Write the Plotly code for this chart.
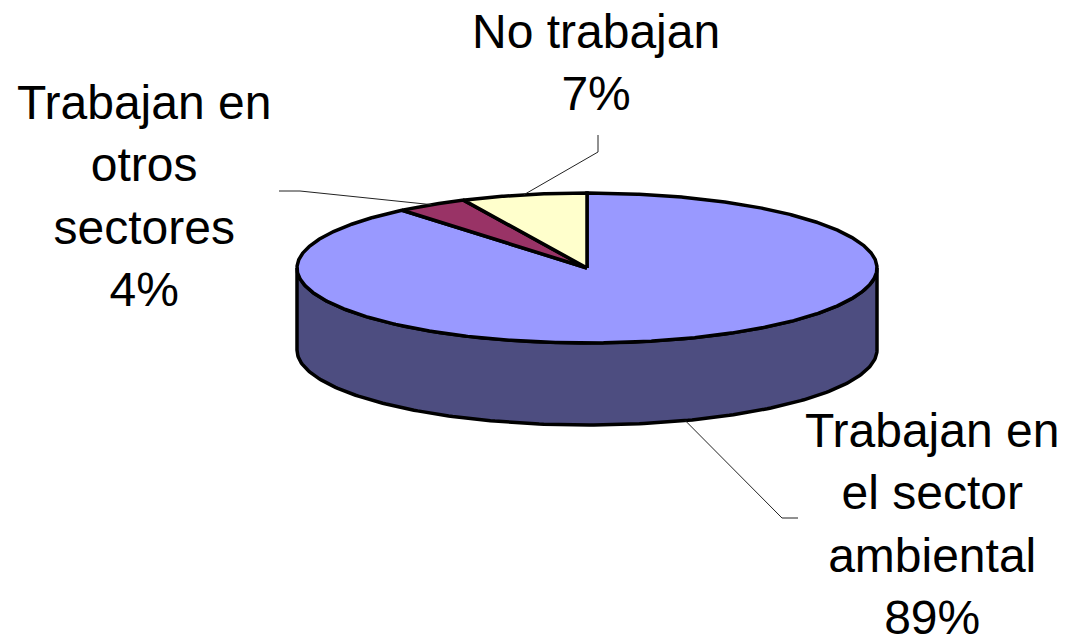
import numpy as np
import plotly.graph_objects as go

# ---- data ----
categories = ["Trabajan en el sector ambiental", "Trabajan en otros sectores", "No trabajan"]
label_texts = ["Trabajan en<br>el sector<br>ambiental", "Trabajan en<br>otros<br>sectores", "No trabajan"]
values = [89, 4, 7]
top_colors = ["#9999FF", "#993366", "#FFFFCC"]
side_colors = ["#4D4D80", "#4D1A33", "#808066"]

# ---- geometry (pixel space) ----
W, H = 1068, 639
cx, cy = 587, 268
a, b = 290, 75
depth = 82

def pt(theta_deg, dy=0.0):
    t = np.radians(theta_deg)
    return cx + a * np.sin(t), cy - b * np.cos(t) + dy

total = float(sum(values))
fig = go.Figure()

starts, ends = [], []
acc = 0.0
for v in values:
    starts.append(acc / total * 360.0)
    acc += v
    ends.append(acc / total * 360.0)

# side faces (front half: theta in [90, 270])
for i in range(len(values)):
    s, e = max(starts[i], 90.0), min(ends[i], 270.0)
    if e <= s:
        continue
    th = np.linspace(s, e, 200)
    xt, yt = pt(th)
    xb, yb = pt(th[::-1], depth)
    xs = np.concatenate([xt, xb, xt[:1]])
    ys = np.concatenate([yt, yb, yt[:1]])
    fig.add_trace(go.Scatter(x=xs, y=ys, mode="lines", fill="toself",
                             fillcolor=side_colors[i],
                             line=dict(color="black", width=3.5),
                             hoverinfo="skip", showlegend=False))

# top faces
for i in range(len(values)):
    th = np.linspace(starts[i], ends[i], max(20, int((ends[i] - starts[i]) * 3)))
    xa, ya = pt(th)
    xs = np.concatenate([[cx], xa, [cx]])
    ys = np.concatenate([[cy], ya, [cy]])
    fig.add_trace(go.Scatter(x=xs, y=ys, mode="lines", fill="toself",
                             fillcolor=top_colors[i],
                             line=dict(color="black", width=3.5),
                             hoverinfo="skip", showlegend=False))

# labels and leader lines
label_pos = [(932, 524), (144, 196), (596, 62)]
elbows = [
    [(782, 518), (798, 518)],
    [(300, 191), (279, 191)],
    [(598, 152), (598, 135)],
]
for i in range(len(values)):
    mid = (starts[i] + ends[i]) / 2.0
    front = 90.0 < (mid % 360) < 270.0
    ex, ey = pt(mid, depth if front else 0.0)
    xs = [ex] + [p[0] for p in elbows[i]]
    ys = [ey] + [p[1] for p in elbows[i]]
    fig.add_trace(go.Scatter(x=xs, y=ys, mode="lines",
                             line=dict(color="#222222", width=1),
                             hoverinfo="skip", showlegend=False))
    pct = round(values[i] / total * 100)
    fig.add_annotation(x=label_pos[i][0], y=label_pos[i][1],
                       text=f"{label_texts[i]}<br>{pct}%",
                       showarrow=False, xanchor="center", yanchor="middle",
                       font=dict(family="Liberation Sans, Arial", size=48, color="black"))

fig.update_layout(
    width=W, height=H,
    margin=dict(l=0, r=0, t=0, b=0),
    paper_bgcolor="white", plot_bgcolor="white",
    xaxis=dict(range=[0, W], visible=False, fixedrange=True),
    yaxis=dict(range=[H, 0], visible=False, fixedrange=True),
    showlegend=False,
)

fig.write_html("out.html", config={"displayModeBar": False},
               post_script="document.body.style.margin='0';document.body.style.overflow='hidden';")
